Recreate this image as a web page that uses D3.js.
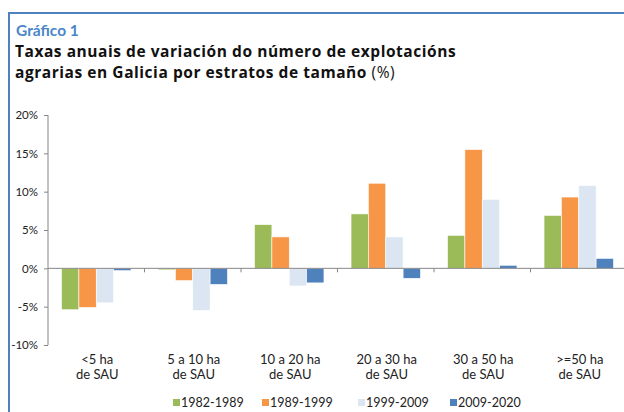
<!DOCTYPE html>
<html>
<head>
<meta charset="utf-8">
<script src="https://cdn.jsdelivr.net/npm/d3@7"></script>
<style>
  body { margin: 0; background: #fff; }
  svg { font-family: Lato, "Open Sans", sans-serif; }
</style>
</head>
<body>
<div id="chart"></div>
<script>
const categories = [["<5 ha", "de SAU"], ["5 a 10 ha", "de SAU"], ["10 a 20 ha", "de SAU"],
    ["20 a 30 ha", "de SAU"], ["30 a 50 ha", "de SAU"], [">=50 ha", "de SAU"]];
const seriesNames = ["1982-1989", "1989-1999", "1999-2009", "2009-2020"];
const s1982 = [-5.4, -0.2, 5.7, 7.1, 4.3, 6.9];
const s1989 = [-5.1, -1.6, 4.1, 11.1, 15.5, 9.3];
const s1999 = [-4.5, -5.5, -2.3, 4.1, 9.0, 10.8];
const s2009 = [-0.3, -2.1, -1.9, -1.3, 0.4, 1.3];
const colors = ["#9bbb59", "#f79646", "#dce6f2", "#4f81bd"];
const yTicks = [-10, -5, 0, 5, 10, 15, 20];

const width = 624, height = 412;
const svg = d3.select("#chart").append("svg")
    .attr("width", width).attr("height", height);

// frame
svg.append("path")
    .attr("d", "M9,412 V13 H624")
    .attr("fill", "none").attr("stroke", "#4f81bd").attr("stroke-width", 2);

svg.append("text").attr("x", 16).attr("y", 36)
    .attr("fill", "#4a86c8").attr("font-weight", 700).attr("font-size", 15.5)
    .text("Gráfico 1");
const titleFont = "'Open Sans', sans-serif";
svg.append("text").attr("x", 15).attr("y", 56.5)
    .attr("fill", "#111").attr("font-weight", 700).attr("font-size", 15.5)
    .attr("letter-spacing", 0.55)
    .style("font-family", titleFont)
    .text("Taxas anuais de variación do número de explotacións");
svg.append("text").attr("x", 15).attr("y", 78)
    .attr("fill", "#111").attr("font-size", 15.5).attr("letter-spacing", 0.55)
    .style("font-family", titleFont)
    .html('<tspan font-weight="700">agrarias en Galicia por estratos de tamaño</tspan> (%)');

const x0 = d3.scaleBand().domain(d3.range(categories.length)).range([48, 627]);
const x1 = d3.scaleBand().domain(d3.range(seriesNames.length))
    .range([0, x0.bandwidth()]).paddingOuter(0.78);
const y = d3.scaleLinear().domain([-10, 20]).range([345, 115]);

const series = [s1982, s1989, s1999, s2009];

const g = svg.append("g");
categories.forEach((c, i) => {
    series.forEach((s, j) => {
        const v = s[i];
        g.append("rect")
            .attr("x", x0(i) + x1(j))
            .attr("y", y(Math.max(0, v)))
            .attr("width", x1.bandwidth())
            .attr("height", Math.abs(y(v) - y(0)))
            .attr("fill", colors[j])
            .attr("stroke", "#fff").attr("stroke-width", 0.6);
    });
});

// y axis
const yAxis = svg.append("g").attr("transform", "translate(48,0)")
    .call(d3.axisLeft(y).tickValues(yTicks).tickSize(4).tickPadding(6)
        .tickFormat(d => d + "%"));
yAxis.attr("font-family", null);
yAxis.select(".domain").attr("stroke", "#868686").attr("d", "M0,115V345");
yAxis.selectAll("line").attr("stroke", "#868686");
yAxis.selectAll("text").attr("font-size", 11.5).attr("fill", "#222");

// x axis at zero
const xAxis = svg.append("g").attr("transform", `translate(0,${y(0)})`);
xAxis.append("line").attr("x1", 48).attr("x2", 627)
    .attr("stroke", "#868686");
xAxis.selectAll(".tk").data(d3.range(1, categories.length)).join("line")
    .attr("x1", i => x0(i)).attr("x2", i => x0(i))
    .attr("y1", 0).attr("y2", 4).attr("stroke", "#868686");

// category labels
const lab = svg.append("g");
categories.forEach((c, i) => {
    const cx = x0(i) + x0.bandwidth() / 2 + 1;
    const t = lab.append("text")
        .attr("text-anchor", "middle").attr("font-size", 13).attr("fill", "#222");
    t.append("tspan").attr("x", cx).attr("y", 364).text(c[0]);
    t.append("tspan").attr("x", cx).attr("y", 378.5).text(c[1]);
});

// legend
const legX = [173, 262, 358, 450];
const leg = svg.append("g");
seriesNames.forEach((n, j) => {
    leg.append("rect").attr("x", legX[j]).attr("y", 399)
        .attr("width", 7).attr("height", 7).attr("fill", colors[j]);
    leg.append("text").attr("x", legX[j] + 8).attr("y", 407)
        .attr("font-size", 12.5).attr("fill", "#222").text(n);
});
</script>
</body>
</html>
